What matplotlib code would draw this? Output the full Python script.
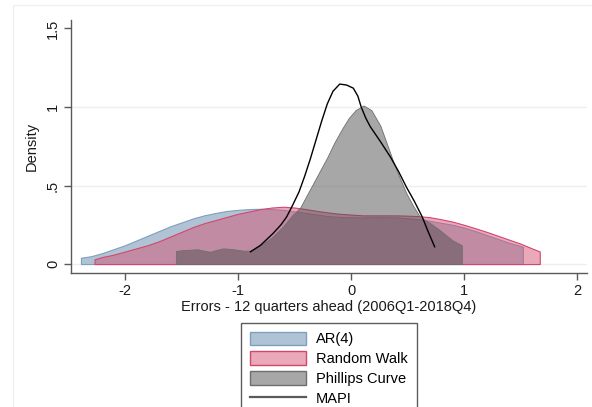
import matplotlib
matplotlib.use('Agg')
import matplotlib.pyplot as plt
from matplotlib.patches import Rectangle, Patch
from matplotlib.lines import Line2D

plt.rcParams['font.family'] = ['Liberation Sans', 'DejaVu Sans']

# Kernel densities (x = forecast error, y = density)
ar4_x = [-2.39, -2.3, -2.2, -2.1, -2.0, -1.9, -1.8, -1.7, -1.6, -1.5, -1.4, -1.3, -1.2, -1.1,
         -1.0, -0.9, -0.8, -0.7, -0.6, -0.5, -0.4, -0.3, -0.2, -0.1, 0.0, 0.1, 0.2, 0.3, 0.4,
         0.5, 0.6, 0.7, 0.8, 0.9, 1.0, 1.1, 1.2, 1.3, 1.4, 1.52]
ar4_y = [0.04, 0.05, 0.07, 0.095, 0.12, 0.15, 0.18, 0.21, 0.24, 0.265, 0.29, 0.31, 0.325, 0.338,
         0.345, 0.35, 0.352, 0.35, 0.345, 0.335, 0.325, 0.315, 0.305, 0.30, 0.298, 0.297, 0.298,
         0.298, 0.297, 0.292, 0.285, 0.275, 0.262, 0.25, 0.232, 0.21, 0.185, 0.16, 0.135, 0.11]

rw_x = [-2.27, -2.2, -2.1, -2.0, -1.9, -1.8, -1.7, -1.6, -1.5, -1.4, -1.3, -1.2, -1.1, -1.0,
        -0.9, -0.8, -0.7, -0.6, -0.5, -0.4, -0.3, -0.2, -0.1, 0.0, 0.1, 0.2, 0.3, 0.4, 0.5,
        0.6, 0.7, 0.8, 0.9, 1.0, 1.1, 1.2, 1.3, 1.4, 1.5, 1.6, 1.67]
rw_y = [0.03, 0.045, 0.06, 0.08, 0.10, 0.12, 0.145, 0.175, 0.205, 0.235, 0.26, 0.28, 0.30, 0.32,
        0.335, 0.35, 0.36, 0.365, 0.36, 0.35, 0.338, 0.328, 0.32, 0.315, 0.31, 0.31, 0.31, 0.31,
        0.308, 0.305, 0.298, 0.285, 0.27, 0.25, 0.228, 0.205, 0.18, 0.155, 0.13, 0.10, 0.08]

pc_x = [-1.55, -1.5, -1.45, -1.36, -1.3, -1.25, -1.2, -1.13, -1.05, -1.0, -0.95, -0.89, -0.8,
        -0.7, -0.6, -0.52, -0.45, -0.39, -0.33, -0.27, -0.21, -0.15, -0.08, -0.02, 0.04, 0.11,
        0.18, 0.26, 0.3, 0.37, 0.43, 0.49, 0.55, 0.61, 0.7, 0.76, 0.83, 0.9, 0.98]
pc_y = [0.083, 0.088, 0.09, 0.094, 0.085, 0.078, 0.088, 0.10, 0.095, 0.09, 0.085, 0.085, 0.12,
        0.17, 0.24, 0.31, 0.36, 0.44, 0.52, 0.60, 0.68, 0.77, 0.86, 0.93, 0.98, 1.01,
        0.98, 0.88, 0.80, 0.66, 0.55, 0.45, 0.37, 0.30, 0.26, 0.23, 0.19, 0.15, 0.12]

mapi_x = [-0.89, -0.8, -0.69, -0.62, -0.57, -0.52, -0.46, -0.41, -0.36, -0.31, -0.26, -0.21,
          -0.16, -0.10, -0.04, 0.02, 0.06, 0.09, 0.13, 0.17, 0.26, 0.35, 0.42, 0.49, 0.56,
          0.63, 0.68, 0.74]
mapi_y = [0.078, 0.12, 0.195, 0.25, 0.30, 0.37, 0.46, 0.56, 0.67, 0.79, 0.91, 1.02,
          1.10, 1.146, 1.14, 1.12, 1.07, 1.00, 0.93, 0.875, 0.78, 0.68, 0.59, 0.49, 0.40,
          0.30, 0.21, 0.11]

x_ticks = [-2, -1, 0, 1, 2]
y_ticks = [0, 0.5, 1, 1.5]
y_tick_labels = ['0', '.5', '1', '1.5']

blue = (97 / 255, 137 / 255, 173 / 255, 0.5)
pink = (213 / 255, 85 / 255, 117 / 255, 0.5)
gray = (81 / 255, 81 / 255, 81 / 255, 0.5)
blue_edge = '#7f9fbf'
pink_edge = '#d4466e'
gray_edge = '#6e6e6e'

W, H = 592, 407
fig = plt.figure(figsize=(W / 100, H / 100), dpi=100)
fig.patch.set_facecolor('white')

# faint outer frame like the Stata graph region (right/bottom run off the image)
fig.add_artist(Rectangle((13 / W, -0.05), 620 / W, 1.05 - 5 / H, transform=fig.transFigure,
                         fill=False, edgecolor='#eef0f0', linewidth=1))

ax = fig.add_axes([71 / W, 1 - 273 / H, 516 / W, 253 / H])
ax.set_xlim(-2.478, 2.088)
ax.set_ylim(-0.057, 1.554)

for yv in y_ticks[:3]:
    ax.axhline(yv, color='#eaf0f0', linewidth=1, zorder=0)

ax.fill_between(ar4_x, 0, ar4_y, facecolor=blue, edgecolor=blue_edge, linewidth=0.8, zorder=2)
ax.fill_between(rw_x, 0, rw_y, facecolor=pink, edgecolor=pink_edge, linewidth=0.8, zorder=3)
ax.fill_between(pc_x, 0, pc_y, facecolor=gray, edgecolor=gray_edge, linewidth=0.6, zorder=4)
ax.plot(mapi_x, mapi_y, color='black', linewidth=1.0, zorder=5)

for side in ['top', 'right']:
    ax.spines[side].set_visible(False)
for side in ['left', 'bottom']:
    ax.spines[side].set_color('#595959')
    ax.spines[side].set_linewidth(1)

ax.set_xticks(x_ticks)
ax.set_xticklabels([str(t) for t in x_ticks])
ax.set_yticks(y_ticks)
ax.set_yticklabels(y_tick_labels, rotation=90, va='center')
ax.tick_params(axis='both', direction='out', length=5, width=1, color='#595959',
               labelsize=10.5, labelcolor='#1a1a1a', pad=3)

ax.set_xlabel('Errors - 12 quarters ahead (2006Q1-2018Q4)', fontsize=10.5, color='#1a1a1a', labelpad=1)
ax.set_ylabel('Density', fontsize=10.5, color='#1a1a1a', labelpad=5)

handles = [
    Patch(facecolor=blue, edgecolor=blue_edge, linewidth=1),
    Patch(facecolor=pink, edgecolor=pink_edge, linewidth=1),
    Patch(facecolor=gray, edgecolor=gray_edge, linewidth=1),
    Line2D([], [], color='#5a5a5a', linewidth=1.6),
]
labels = ['AR(4)', 'Random Walk', 'Phillips Curve', 'MAPI']
leg = fig.legend(handles, labels, loc='upper left', bbox_to_anchor=(240.7 / W, 1 - 322.5 / H),
                 borderaxespad=0, fontsize=10.5, frameon=True, fancybox=False,
                 handlelength=3.85, handleheight=1.03, handletextpad=0.7,
                 labelspacing=0.36, borderpad=0.62)
leg.get_frame().set_edgecolor('#333333')
leg.get_frame().set_linewidth(1)

fig.savefig('out.png', dpi=100)
